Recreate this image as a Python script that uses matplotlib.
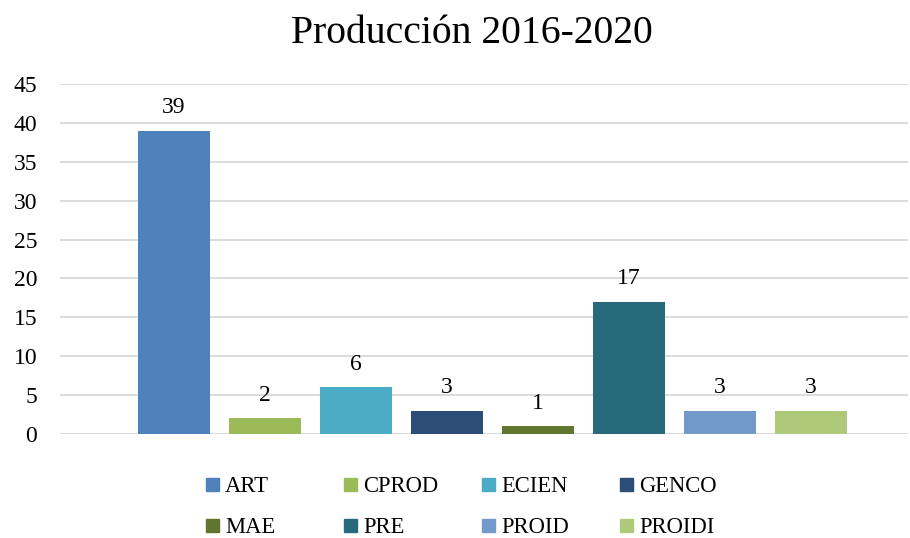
import matplotlib
matplotlib.use("Agg")
import matplotlib.pyplot as plt
import matplotlib.patches as patches

categories = ["ART", "CPROD", "ECIEN", "GENCO", "MAE", "PRE", "PROID", "PROIDI"]
values = [39, 2, 6, 3, 1, 17, 3, 3]
colors = ["#4F81BD", "#9BBB59", "#4BACC6", "#2C4D75", "#5F7530", "#276A7C", "#729ACA", "#AFC97A"]
yticks = [0, 5, 10, 15, 20, 25, 30, 35, 40, 45]

plt.rcParams["font.family"] = ["Liberation Serif", "DejaVu Serif"]

W, H = 910, 538
fig = plt.figure(figsize=(W / 100, H / 100), dpi=100)
ax = fig.add_axes([60 / W, 1 - 434 / H, 848 / W, 350 / H])

xs = list(range(len(categories)))
bars = ax.bar(xs, values, width=0.79, color=colors, zorder=3)
for x, v in zip(xs, values):
    ax.annotate(str(v), (x, v), xytext=(0, 12.7), textcoords="offset points",
                ha="center", va="baseline", fontsize=17, color="#000000")

ax.set_xlim(-1.253, 8.066)
ax.set_ylim(0, 45)
ax.set_yticks(yticks)
ax.set_xticks([])
ax.tick_params(axis="y", length=0, pad=16.5, labelsize=17, labelcolor="#000000")
ax.grid(axis="y", color="#D9D9D9", linewidth=1.3, zorder=0)
for s in ax.spines.values():
    s.set_visible(False)

fig.text(472 / W, 1 - 43 / H, "Producción 2016-2020", ha="center", va="baseline", fontsize=28.5)

# legend, 4 columns x 2 rows like the Excel original
for i, (name, col) in enumerate(zip(categories, colors)):
    px = 206 + 138 * (i % 4)
    py = 484 + 41 * (i // 4)
    fig.add_artist(patches.Rectangle((px / W, 1 - (py + 6.5) / H), 13 / W, 13 / H,
                                     transform=fig.transFigure, color=col))
    fig.text((px + 19) / W, 1 - py / H, name, ha="left", va="center_baseline", fontsize=16.3)

fig.savefig("out.png", dpi=100)
